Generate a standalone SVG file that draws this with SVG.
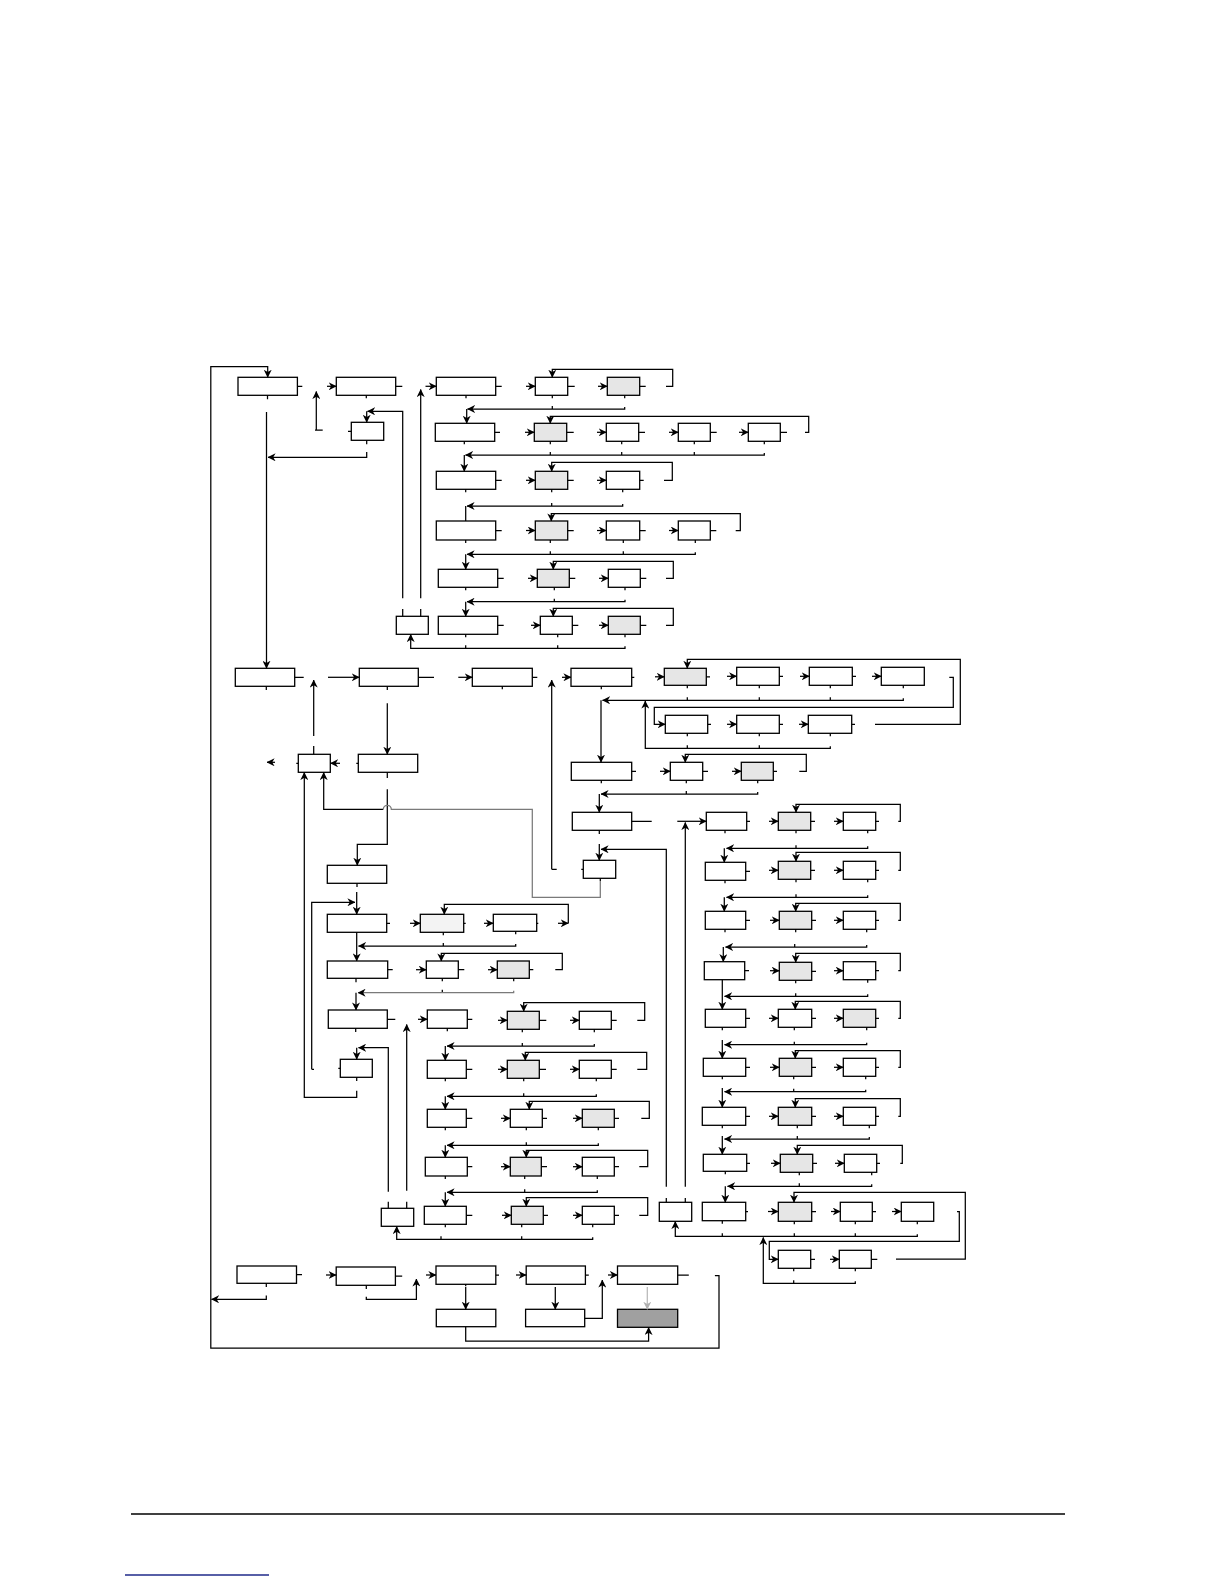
<svg xmlns="http://www.w3.org/2000/svg" width="1224" height="1584" viewBox="0 0 1224 1584">
<style>
rect{fill:#fff;stroke:#000;stroke-width:1.3}
.g rect{fill:#e6e6e6}
.gl rect{fill:#f3f3f3}
.d rect{fill:#a0a0a0}
#connectors path{fill:none;stroke:#000;stroke-width:1.25}
#connectors .a{marker-end:url(#ah)}
#connectors .gr{stroke:#7a7a7a}
#connectors .lg{stroke:#b8b8b8;marker-end:url(#ahg)}
</style>
<defs>
<marker id="ah" viewBox="0 0 10 10" refX="9.5" refY="5" markerWidth="8" markerHeight="8" orient="auto" markerUnits="userSpaceOnUse"><path d="M0,0 L10,5 L0,10 L3,5 z" fill="#000"/></marker>
<marker id="ahg" viewBox="0 0 10 10" refX="9.5" refY="5" markerWidth="8" markerHeight="8" orient="auto" markerUnits="userSpaceOnUse"><path d="M0,0 L10,5 L0,10 L3,5 z" fill="#b0b0b0"/></marker>
</defs>
<rect x="0" y="0" width="1224" height="1584" style="fill:#fff;stroke:none"/>

<g id="nodes">
<g id="A1"><rect x="238" y="377.3" width="59.4" height="18"/></g>
<g id="A2"><rect x="336.3" y="377.3" width="59.4" height="18"/></g>
<g id="A3"><rect x="351.3" y="422.3" width="32.4" height="18"/></g>
<g id="Bsm"><rect x="396.3" y="616.3" width="32" height="18"/></g>
<g id="A4"><rect x="436.3" y="377.3" width="59.4" height="18"/></g>
<g id="C1"><rect x="535.3" y="377.3" width="32.4" height="18"/></g>
<g id="C2" class="g"><rect x="607.3" y="377.3" width="32.4" height="18"/></g>
<g id="D2"><rect x="435.3" y="423.3" width="59.4" height="18"/></g>
<g id="r2a" class="g"><rect x="534.3" y="423.3" width="32.4" height="18"/></g>
<g id="r2b"><rect x="606.3" y="423.3" width="32.4" height="18"/></g>
<g id="r2c"><rect x="678.3" y="423.3" width="32" height="18"/></g>
<g id="r2d"><rect x="748.3" y="423.3" width="32" height="18"/></g>
<g id="D3"><rect x="436.3" y="471.3" width="59.4" height="18"/></g>
<g id="r3a" class="g"><rect x="535.3" y="471.3" width="32.4" height="18"/></g>
<g id="r3b"><rect x="606.3" y="471.3" width="33.4" height="18"/></g>
<g id="D4"><rect x="436.3" y="521" width="59.4" height="19"/></g>
<g id="r4a" class="g"><rect x="535.3" y="521" width="32.4" height="19"/></g>
<g id="r4b"><rect x="606.3" y="521" width="33.4" height="19"/></g>
<g id="r4c"><rect x="678.3" y="521" width="32" height="19"/></g>
<g id="D5"><rect x="438.3" y="569.3" width="59.4" height="18"/></g>
<g id="r5a" class="g"><rect x="537.3" y="569.3" width="32" height="18"/></g>
<g id="r5b"><rect x="608.3" y="569.3" width="32" height="18"/></g>
<g id="D6"><rect x="438.3" y="616.3" width="59.4" height="18"/></g>
<g id="r6a"><rect x="540.3" y="616.3" width="32" height="18"/></g>
<g id="r6b" class="g"><rect x="608.3" y="616.3" width="32" height="18"/></g>

<g id="M2"><rect x="235.3" y="668.3" width="59.4" height="18"/></g>
<g id="M3"><rect x="359.3" y="668.3" width="59" height="18"/></g>
<g id="M4"><rect x="472.3" y="668.3" width="60" height="18"/></g>
<g id="M7"><rect x="571" y="668.3" width="60.7" height="18"/></g>
<g id="G1" class="g"><rect x="664.3" y="668.3" width="42" height="17"/></g>
<g id="h2"><rect x="736.7" y="667.3" width="42.6" height="18"/></g>
<g id="h3"><rect x="809.3" y="667.3" width="43" height="18"/></g>
<g id="h4"><rect x="881.3" y="667.3" width="43" height="18"/></g>
<g id="N1"><rect x="665.3" y="715.3" width="42.4" height="18"/></g>
<g id="N2"><rect x="736.7" y="715.3" width="42.6" height="18"/></g>
<g id="N3"><rect x="808.3" y="715.3" width="43.4" height="18"/></g>
<g id="P1"><rect x="571.3" y="762.3" width="60.4" height="18"/></g>
<g id="P2"><rect x="670.3" y="762.3" width="32.4" height="18"/></g>
<g id="P3" class="g"><rect x="741.3" y="762.3" width="32" height="18"/></g>
<g id="Q1"><rect x="572.3" y="812.3" width="59.4" height="18"/></g>
<g id="Q2"><rect x="706.3" y="812.3" width="40.4" height="18"/></g>
<g id="Q3" class="g"><rect x="778.3" y="812.3" width="32.4" height="18"/></g>
<g id="Q4"><rect x="843.3" y="812.3" width="32.4" height="18"/></g>
<g id="S2"><rect x="583.3" y="860.3" width="32.4" height="18"/></g>
<g id="R1"><rect x="705.3" y="862.3" width="40.4" height="18"/></g>
<g id="R2" class="g"><rect x="778.3" y="861.3" width="32.4" height="18"/></g>
<g id="R3"><rect x="843.3" y="861.3" width="32.4" height="18"/></g>
<g id="Sa"><rect x="705.3" y="911.3" width="40.4" height="18"/></g>
<g id="Sb" class="g"><rect x="779.3" y="911.3" width="32.4" height="18"/></g>
<g id="Sc"><rect x="843.3" y="911.3" width="32.4" height="18"/></g>
<g id="T1"><rect x="704.3" y="961.7" width="40.4" height="18"/></g>
<g id="T2" class="g"><rect x="779.3" y="962.3" width="32.4" height="18"/></g>
<g id="T3"><rect x="843.3" y="961.7" width="32.4" height="18"/></g>
<g id="U1"><rect x="705.3" y="1009.3" width="40.4" height="18"/></g>
<g id="U2"><rect x="778.3" y="1009.3" width="33.4" height="18"/></g>
<g id="U3" class="g"><rect x="843.3" y="1009.3" width="32.4" height="18"/></g>
<g id="V1"><rect x="703.3" y="1058.3" width="42.4" height="18"/></g>
<g id="V2" class="g"><rect x="779.3" y="1058.3" width="32.4" height="18"/></g>
<g id="V3"><rect x="843.3" y="1058.3" width="32.4" height="18"/></g>
<g id="W1"><rect x="702.3" y="1107.3" width="43.4" height="18"/></g>
<g id="W2" class="g"><rect x="778.3" y="1107.3" width="33.4" height="18"/></g>
<g id="W3"><rect x="843.3" y="1107.3" width="32.4" height="18"/></g>
<g id="X1"><rect x="703.3" y="1154.3" width="43.4" height="17"/></g>
<g id="X2" class="g"><rect x="780.3" y="1154.3" width="32.4" height="18"/></g>
<g id="X3"><rect x="844.3" y="1154.3" width="32.4" height="18"/></g>
<g id="Yk"><rect x="659.3" y="1202.3" width="32.4" height="19"/></g>
<g id="Y1"><rect x="702.3" y="1202.3" width="43.4" height="18.4"/></g>
<g id="Y2" class="g"><rect x="778.3" y="1202.3" width="33.4" height="19"/></g>
<g id="Y3"><rect x="840.3" y="1202.3" width="32" height="19"/></g>
<g id="Y4"><rect x="901.3" y="1202.3" width="32.4" height="19"/></g>
<g id="Z1"><rect x="778.3" y="1250.3" width="32.4" height="18"/></g>
<g id="Z2"><rect x="839.3" y="1250.3" width="32" height="18"/></g>

<g id="M5"><rect x="358.3" y="754.3" width="59.4" height="18"/></g>
<g id="S1"><rect x="298.3" y="754.3" width="32" height="18"/></g>
<g id="M6"><rect x="327.3" y="865.3" width="59.4" height="18"/></g>
<g id="E1"><rect x="327.3" y="914.3" width="59.4" height="18"/></g>
<g id="E2" class="gl"><rect x="420.3" y="914.3" width="43.4" height="18"/></g>
<g id="E3"><rect x="493.3" y="914.3" width="43.4" height="17"/></g>
<g id="Ga"><rect x="327.3" y="961" width="60.4" height="17.3"/></g>
<g id="Gb"><rect x="426.3" y="961" width="32" height="17.3"/></g>
<g id="Gc" class="g"><rect x="497.3" y="961" width="32" height="17.3"/></g>
<g id="H1"><rect x="328.3" y="1010" width="59" height="18.3"/></g>
<g id="H2"><rect x="427.3" y="1010" width="40" height="18.3"/></g>
<g id="H3" class="g"><rect x="507.3" y="1011.3" width="32" height="18"/></g>
<g id="H4"><rect x="579.3" y="1011.3" width="32" height="18"/></g>
<g id="F"><rect x="340.3" y="1059.3" width="32" height="18"/></g>
<g id="I1"><rect x="427.3" y="1060.3" width="39" height="18"/></g>
<g id="I2" class="g"><rect x="507.3" y="1060.3" width="32" height="18"/></g>
<g id="I3"><rect x="579.3" y="1060.3" width="32" height="18"/></g>
<g id="J1"><rect x="427.3" y="1109.3" width="39" height="18"/></g>
<g id="J2"><rect x="510.3" y="1109.3" width="32" height="18"/></g>
<g id="J3" class="g"><rect x="582.3" y="1109.3" width="32" height="18"/></g>
<g id="K1"><rect x="425.3" y="1157.3" width="42" height="18.7"/></g>
<g id="K2" class="g"><rect x="510.3" y="1157.3" width="31" height="18.7"/></g>
<g id="K3"><rect x="582.3" y="1157.3" width="32" height="18.7"/></g>
<g id="Lk"><rect x="381.3" y="1208.3" width="32.4" height="18"/></g>
<g id="L1"><rect x="424.3" y="1206.3" width="42" height="18"/></g>
<g id="L2" class="g"><rect x="511.3" y="1206.3" width="32" height="18"/></g>
<g id="L3"><rect x="582.3" y="1206.3" width="32" height="18"/></g>

<g id="Mb"><rect x="237" y="1266" width="59.5" height="17.3"/></g>
<g id="B2"><rect x="336.2" y="1267" width="59.2" height="18.3"/></g>
<g id="B3"><rect x="436" y="1266" width="59.8" height="18.3"/></g>
<g id="B4"><rect x="526.2" y="1266" width="59.2" height="18.3"/></g>
<g id="B5"><rect x="617.5" y="1266" width="60.2" height="18.3"/></g>
<g id="B6"><rect x="436.3" y="1309.3" width="59.5" height="17.4"/></g>
<g id="B7"><rect x="525.6" y="1309.3" width="59.1" height="17.4"/></g>
<g id="B8" class="d"><rect x="617.5" y="1309.3" width="60.2" height="18"/></g>
</g>

<g id="connectors">
<path d="M297.4,386.3H302.3 M395.7,386.3H402.3 M348,431.3H351.3 M495.7,386.3H501.7 M567.7,386.3H574.7 M639.7,386.3H645.7
M494.7,432.3H500 M566.7,432.3H573.7 M638.7,432.3H645 M710.3,432.3H716.7 M780.3,432.3H787
M495.7,480.3H501.7 M567.7,480.3H573.7 M639.7,480.3H643.7
M495.7,530.5H501.7 M567.7,530.5H573.7 M639.7,530.5H645.7 M710.3,530.5H716.3
M497.7,578.3H503.7 M569.3,578.3H575.3 M640.3,578.3H646.3
M497.7,625.3H503.7 M572.3,625.3H578.3 M640.3,625.3H646.3
M294.7,677.3H303.7 M418.3,677.3H434 M532.3,677.3H537.3 M631.7,677.3H634.3
M706.3,676.8H710 M779.3,676.3H783 M852.3,676.3H856
M707.7,724.3H711 M779.3,724.3H783 M851.7,724.3H855
M631.7,771.3H636 M702.7,771.3H708 M773.3,771.3H777
M631.7,821.3H651.7 M746.7,821.3H750 M810.7,821.3H815 M875.7,821.3H879
M745.7,871.3H750 M810.7,870.3H815 M875.7,870.3H879
M745.7,920.3H750 M811.7,920.3H816 M875.7,920.3H879
M744.7,970.7H749 M811.7,971.3H816 M875.7,970.7H879
M745.7,1018.3H750 M811.7,1018.3H816 M875.7,1018.3H879
M745.7,1067.3H750 M811.7,1067.3H816 M875.7,1067.3H879
M745.7,1116.3H750 M811.7,1116.3H816 M875.7,1116.3H879
M746.7,1163.3H750 M812.7,1163.3H817 M876.7,1163.3H880
M745.7,1211.5H748 M811.7,1211.5H816 M872.3,1211.5H876
M810.7,1259.3H815 M871.3,1259.3H877.3
M356.3,763.3H358.3 M296.3,763.3H298.3 M581.3,869.3H583.3 M338.3,1068.3H340.3
M386.7,923.3H390 M463.7,923.3H465.7 M536.7,923.3H538.3
M387.7,969.7H392.7 M458.3,969.7H464.3 M529.3,969.7H533.3
M387.3,1019.3H395.3 M467.3,1019.3H472.3 M539.3,1020.3H546.3 M611.3,1020.3H616.7
M466.3,1069.3H472.3 M539.3,1069.3H546 M611.3,1069.3H616.7
M466.3,1118.3H472.3 M542.3,1118.3H547 M614.3,1118.3H619
M467.3,1166.7H472.3 M541.3,1166.7H547 M614.3,1166.7H619
M466.3,1215.3H472.3 M543.3,1215.3H548 M614.3,1215.3H619
M296.5,1274.6H302 M395.4,1276H402.2 M495.8,1275H499 M585.4,1275H588.8 M677.7,1275H688.8
M315,430H322.7 M551.7,869.3H556.7 M311.7,1069.3H314"/>
<path d="M267.5,395.3v4 M366.3,395.3v3 M366.7,440.3v4 M402.7,609V616.3 M420.7,609V616.3
M466,395.3v3 M552.3,395.3v3 M624.7,395.3v3 M552.3,409v-3
M464.3,441.3v3 M550.3,441.3v3 M621.7,441.3v3 M694.3,441.3v3 M764.3,441.3v3 M550.3,455v-3 M621.7,455v-3 M694.3,455v-3
M465.7,489.3v3 M551.7,489.3v3 M622.7,489.3v3 M551.7,506v-3
M465.7,540v3 M550.3,540v3 M623.3,540v3 M695.3,540v3 M550.3,554.3v-3 M623.3,554.3v-3
M465.7,587.3v3 M554.3,587.3v3 M625,587.3v3 M554.3,601.7v-3
M465.7,634.3v3 M557.7,634.3v3 M625,634.3v3 M557.7,648.3v-3 M465.7,648.3v-3
M266.3,686.3V690 M313.7,746V754.3 M387.3,686.3V690 M387.3,772.3V778 M502.3,686.3v3 M601.3,686.3v3
M687.3,685.3v3 M759.3,685.3v3 M830.3,685.3v3 M903.3,685.3v3 M687.3,700.3v-3 M759.3,700.3v-3 M830.3,700.3v-3
M687.3,733.3v3 M759.3,733.3v3 M830.3,733.3v3 M687.3,748.3v-3 M759.3,748.3v-3
M601.3,780.3v3 M686.3,780.3v3 M757.7,780.3v3 M686.3,794v-3
M599.3,830.3V834 M725,830.3v3 M796,830.3v3 M867.7,830.3v3 M796,848.3v-3
M600.3,878.3V881
M725,880.3v3 M796,879.3v3 M867.7,879.3v3 M796,897.3v-3
M725,929.3v3 M795.7,929.3v3 M866.7,929.3v3 M794.7,947v-3
M795.7,980.3v3 M867.7,979.7v3 M795.7,996.3v-3
M722.3,1027.3v3 M794.3,1027.3v3 M866.7,1027.3v3 M794.3,1044.7v-3
M722.3,1076.3v3 M793.7,1076.3v3 M865.7,1076.3v3 M793.7,1091.7v-3
M722.3,1125.3v3 M797.3,1125.3v3 M869.3,1125.3v3 M797.3,1139v-3
M725.3,1171.3v3 M799.3,1172.3v3 M871.7,1172.3v3 M799.3,1186.3v-3
M666.3,1198V1202.3 M685.3,1198V1202.3
M722.3,1220.7v3 M794.3,1221.3v3 M855.3,1221.3v3 M917.3,1221.3v3 M722.3,1236.3v-3 M794.3,1236.3v-3 M855.3,1236.3v-3
M793.7,1268.3v3 M855.3,1268.3v3 M793.7,1283.3v-3
M357,883.3V887 M443.3,932.3v3 M515.7,931.3v3 M443.3,946v-3
M356,978.3v4 M442.3,978.3v3 M513.7,978.3v3 M442.3,992.7v-3
M355.7,1028.3V1032 M447.3,1028.3v3 M522.3,1029.3v3 M594.3,1029.3v3 M522.3,1046v-3
M356.7,1077.3V1081
M445.3,1078.3v3 M523.7,1078.3v3 M596.3,1078.3v3 M523.7,1096.3v-3
M445.3,1127.3v3 M526.3,1127.3v3 M598.3,1127.3v3 M526.3,1145.3v-3
M445.3,1176v3 M524.7,1176v3 M597.3,1176v3 M524.7,1192.3v-3
M388.3,1201.7V1208.3 M406.7,1201.7V1208.3
M445.3,1224.3v3 M521.7,1224.3v3 M592.7,1224.3v3 M441,1239.3v-3 M521.7,1239.3v-3
M266.3,1283.3V1287 M366.3,1285.3V1289 M465.7,1284.3v2
M465.7,506V521"/>

<path class="a" d="M714.9,1275.5H719V1348H210.8V366.7H267.7V377.3"/>
<path class="a" d="M266.5,412V668.3"/>
<path class="a" d="M366.7,452V457.3H268"/>
<path class="a" d="M316.3,430V391.5"/>
<path class="a" d="M327,386.3H336.3"/>
<path class="a" d="M402.7,598.3V411.3H367.5"/>
<path class="a" d="M366.7,411.3V422.3"/>
<path class="a" d="M420.7,598.3V389.5"/>
<path class="a" d="M425.5,386.3H436.3"/>

<path class="a" d="M526,386.3H535.3"/><path class="a" d="M598,386.3H607.3"/>
<path class="a" d="M666,386.3H672.7V369.3H552.3V377.3"/>
<path class="a" d="M624.7,407V409H467.5"/><path class="a" d="M466.7,409V423.3"/>
<path class="a" d="M525,432.3H534.3"/><path class="a" d="M597,432.3H606.3"/><path class="a" d="M669,432.3H678.3"/><path class="a" d="M739,432.3H748.3"/>
<path class="a" d="M805,432.3H808.7V416.3H550.3V423.3"/>
<path class="a" d="M764.3,453V455H465.5"/><path class="a" d="M464.3,455V471.3"/>
<path class="a" d="M526,480.3H535.3"/><path class="a" d="M597,480.3H606.3"/>
<path class="a" d="M664,480.3H672.3V462.3H551.7V471.3"/>
<path class="a" d="M622.7,504V506H467"/>
<path class="a" d="M526,530.5H535.3"/><path class="a" d="M597,530.5H606.3"/><path class="a" d="M669,530.5H678.3"/>
<path class="a" d="M735.7,530.5H740.3V513.7H551.3V521"/>
<path class="a" d="M695.3,552.3V554.3H467"/><path class="a" d="M465.7,554.3V569.3"/>
<path class="a" d="M528,578.3H537.3"/><path class="a" d="M599,578.3H608.3"/>
<path class="a" d="M666,578.3H673.3V561.3H553.3V569.3"/>
<path class="a" d="M625,599.7V601.7H467"/><path class="a" d="M465.7,601.7V616.3"/>
<path class="a" d="M531,625.3H540.3"/><path class="a" d="M599,625.3H608.3"/>
<path class="a" d="M666,625.3H673.3V608.3H553.3V616.3"/>
<path class="a" d="M625,646.3V648.3H410.7V634.5"/>

<path class="a" d="M313.7,736V680"/>
<path class="a" d="M328,677.3H359.3"/>
<path class="a" d="M458.3,677.3H472.3"/>
<path class="a" d="M387.3,703.3V754.3"/>
<path class="a" d="M551.7,869.3V680"/>
<path class="a" d="M562,677.3H571"/>
<path class="a" d="M655,676.8H664.3"/><path class="a" d="M727,676.3H736.7"/><path class="a" d="M800,676.3H809.3"/><path class="a" d="M872,676.3H881.3"/>
<path class="a" d="M875,724.3H960.3V659.3H687.3V668.3"/>
<path class="a" d="M949.3,677.3H953.3V707.3H654.3V724.3H665.3"/>
<path class="a" d="M903.3,698.3V700.3H602.5"/><path class="a" d="M601,700.3V762.3"/>
<path class="a" d="M727,724.3H736.7"/><path class="a" d="M799,724.3H808.3"/>
<path class="a" d="M830.3,746.3V748.3H645.3V701"/>
<path class="a" d="M660,771.3H670.3"/><path class="a" d="M732,771.3H741.3"/>
<path class="a" d="M799.3,771.3H806.3V754.3H685.3V762.3"/>
<path class="a" d="M757.7,792V794H601"/><path class="a" d="M599.3,794V812.3"/>
<path class="a" d="M677.3,821.3H706.3"/>
<path class="a" d="M685.3,1186.7V822.5"/>
<path class="a" d="M769,821.3H778.3"/><path class="a" d="M834,821.3H843.3"/>
<path class="a" d="M898.3,821.3H900.3V804.3H796V812.3"/>
<path class="a" d="M867.7,846.3V848.3H726.5"/><path class="a" d="M724.3,848.3V862.3"/>
<path class="a" d="M666.3,1186.7V849.3H601"/><path class="a" d="M599.3,844V860.3"/>
<path class="a" d="M769,870.3H778.3"/><path class="a" d="M834,870.3H843.3"/>
<path class="a" d="M898.3,870.3H900.3V852.3H796V861.3"/>
<path class="a" d="M867.7,895.3V897.3H726.5"/><path class="a" d="M724.3,897.3V911.3"/>
<path class="a" d="M770,920.3H779.3"/><path class="a" d="M834,920.3H843.3"/>
<path class="a" d="M898.3,920.3H900.3V903.3H795.7V911.3"/>
<path class="a" d="M866.7,945V947H725.5"/><path class="a" d="M723.3,947V961.7"/>
<path class="a" d="M770,970.7H779.3"/><path class="a" d="M834,970.7H843.3"/>
<path class="a" d="M898.3,970.7H900.3V953.3H795.7V962.3"/>
<path class="a" d="M867.7,994.3V996.3H724.5"/><path class="a" d="M722.3,979.7V1009.3"/>
<path class="a" d="M769,1018.3H778.3"/><path class="a" d="M834,1018.3H843.3"/>
<path class="a" d="M898.3,1018.3H900.3V1001.3H795.3V1009.3"/>
<path class="a" d="M866.7,1042.7V1044.7H724.5"/><path class="a" d="M722.3,1040V1058.3"/>
<path class="a" d="M770,1067.3H779.3"/><path class="a" d="M834,1067.3H843.3"/>
<path class="a" d="M898.3,1067.3H900.3V1050.7H795.3V1058.3"/>
<path class="a" d="M865.7,1089.7V1091.7H724.5"/><path class="a" d="M722.3,1088V1107.3"/>
<path class="a" d="M769,1116.3H778.3"/><path class="a" d="M834,1116.3H843.3"/>
<path class="a" d="M898.3,1116.3H900.3V1098.7H795.3V1107.3"/>
<path class="a" d="M869.3,1137V1139H724.5"/><path class="a" d="M722.3,1136V1154.3"/>
<path class="a" d="M771,1163.3H780.3"/><path class="a" d="M835,1163.3H844.3"/>
<path class="a" d="M900.3,1163.3H902.3V1145.3H797.3V1154.3"/>
<path class="a" d="M871.7,1184.3V1186.3H727.5"/><path class="a" d="M725.3,1186.3V1202.3"/>
<path class="a" d="M768,1211.5H778.3"/><path class="a" d="M831,1211.5H840.3"/><path class="a" d="M892,1211.5H901.3"/>
<path class="a" d="M896,1259H965.3V1192.3H794V1202.3"/>
<path class="a" d="M957,1211.5H959.3V1241.3H769.3V1259.3H778.3"/>
<path class="a" d="M917.3,1234.3V1236.3H675.3V1221.5"/>
<path class="a" d="M830,1259.3H839.3"/>
<path class="a" d="M855.3,1281.3V1283.3H763.3V1237.5"/>

<path class="a" d="M340,763.3H330.5"/>
<path class="a" d="M275,762.3H267"/>
<path class="a" d="M387.3,789.3V844.3H357.3V865.3"/>
<path class="a" d="M383.3,809.3H323.7V772.5"/>
<path class="gr" d="M600.3,881V897.3H532.3V809.3H391.3A4,4 0 0 0 383.3,809.3"/>
<path class="a" d="M311.7,1069.3V902.3H355"/>
<path class="a" d="M356.7,892V914.3"/>
<path class="a" d="M356.7,1090.7V1097.3H304.3V772.5"/>
<path class="a" d="M410,923.3H420.3"/><path class="a" d="M484,923.3H493.3"/><path class="a" d="M558,923.3H568.3"/>
<path class="a" d="M568.3,923.3V904.3H444.3V914.3"/>
<path class="a" d="M515.7,944V946H358.5"/><path class="a" d="M356.7,932.3V961"/>
<path class="a" d="M416,969.7H426.3"/><path class="a" d="M488,969.7H497.3"/>
<path class="a" d="M555.3,969.7H562.3V953.3H441.3V961"/>
<path class="a gr" d="M513.7,990.7V992.7H358"/><path class="a" d="M356,992.7V1010"/>
<path class="a" d="M406.7,1190.7V1024.5"/>
<path class="a" d="M418,1019.3H427.3"/><path class="a" d="M498,1020.3H507.3"/><path class="a" d="M570,1020.3H579.3"/>
<path class="a" d="M637.3,1020.3H644.7V1002.7H523.7V1011.3"/>
<path class="a" d="M594.3,1044V1046H447"/><path class="a" d="M445.3,1046V1060.3"/>
<path class="a" d="M388.3,1191.7V1047.7H358.5"/><path class="a" d="M356.7,1047.7V1059.3"/>
<path class="a" d="M498,1069.3H507.3"/><path class="a" d="M570,1069.3H579.3"/>
<path class="a" d="M637.3,1069.3H646.7V1052.3H525.3V1060.3"/>
<path class="a" d="M596.3,1094.3V1096.3H447"/><path class="a" d="M445.3,1096.3V1109.3"/>
<path class="a" d="M501,1118.3H510.3"/><path class="a" d="M573,1118.3H582.3"/>
<path class="a" d="M641.3,1118.3H649.3V1101.3H529.3V1109.3"/>
<path class="a" d="M598.3,1143.3V1145.3H447"/><path class="a" d="M445.3,1145.3V1157.3"/>
<path class="a" d="M501,1166.7H510.3"/><path class="a" d="M573,1166.7H582.3"/>
<path class="a" d="M639.3,1166.7H647.7V1150.3H526.3V1157.3"/>
<path class="a" d="M597.3,1190.3V1192.3H447"/><path class="a" d="M445.3,1192.3V1206.3"/>
<path class="a" d="M502,1215.3H511.3"/><path class="a" d="M573,1215.3H582.3"/>
<path class="a" d="M639.3,1215.3H647.7V1197.7H526.3V1206.3"/>
<path class="a" d="M592.7,1237.3V1239.3H396.7V1226.5"/>

<path class="a" d="M326,1275H336.2"/>
<path class="a" d="M366.3,1296.7V1299.3H416.4V1279"/>
<path class="a" d="M426,1275H436"/>
<path class="a" d="M465.7,1287V1309.3"/>
<path class="a" d="M465.7,1326.7V1341H648.6V1327.5"/>
<path class="a" d="M516,1275H526.2"/>
<path class="a" d="M555.3,1287V1309.3"/>
<path class="a" d="M584.7,1318.3H602.3V1280"/>
<path class="a" d="M608,1275H617.5"/>
<path class="lg" d="M647.3,1287V1309.3"/>
<path class="a" d="M266.3,1295.5V1299.3H211.5"/>
</g>

<g id="page">
<line x1="131" y1="1514" x2="1065" y2="1514" stroke="#000" stroke-width="1.5"/>
<line x1="125" y1="1575" x2="269" y2="1575" stroke="#1f2a8a" stroke-width="1.5"/>
</g>
</svg>
